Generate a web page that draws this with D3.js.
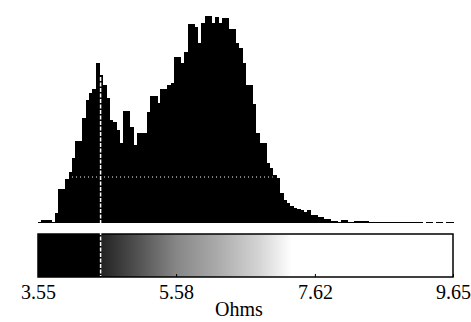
<!DOCTYPE html>
<html><head><meta charset="utf-8">
<script src="https://cdn.jsdelivr.net/npm/d3@7"></script>
<style>body{margin:0;background:#fff}svg{display:block}</style>
</head><body>
<svg id="c" width="471" height="322"></svg>
<script>
// Histogram counts, bins of 0.05 ohm starting at 3.55
const binStart = 3.55;
const binWidth = 0.05;
const counts = [
  1,3,3,3,1.5,10,34,34,44,51,
  65,82,82,105,123,130,134,160,148,138,
  125,103,101,93,80,112,112,96,78,90,
  90,90,111,127,127,120,134,134,138,140,
  166,166,160,171,199,199,196,180,200,207,
  207,200,206,200,205,205,194,194,180,175,
  160,138,138,119,90,80,80,60,55,48,
  45,30,23,20,17,15,14,13,11,13,
  8,8,6,6,4,4,2.5,2.5,1.5,3.5,
  3.5,1.5,1.5,2.5,2.5,2.5,2.5,0.8,0.8,0.8,
  1.5,1.5,1.5,1.5,1.5,1.2,1.2,1.2,1.2,1,
  1,0.8,0.8,0,1,1,0,1,1,0,1,1
];
const tickValues = [3.55, 5.58, 7.62, 9.65];
const markerValue = 4.47;          // white vertical dashed marker
const thresholdCount = 46;         // white horizontal dotted line
const thresholdRange = [4.05, 7.0];
const colorStops = [
  [3.55, "#000000"], [4.47, "#000000"], [4.47, "#222222"],
  [5.0, "#505050"], [5.58, "#868686"], [6.2, "#ababab"],
  [6.8, "#d4d4d4"], [7.28, "#ffffff"], [9.65, "#ffffff"]
];
const axisLabel = "Ohms";

const svg = d3.select("#c");
const x = d3.scaleLinear().domain([3.55, 9.65]).range([38, 453]);
const y = d3.scaleLinear().domain([0, 210]).range([223, 13]);

// bars
svg.append("g").selectAll("rect").data(counts).join("rect")
  .attr("x", (d,i) => x(binStart + i*binWidth))
  .attr("width", (d,i) => x(binStart + (i+1)*binWidth) - x(binStart + i*binWidth) + 0.6)
  .attr("y", d => y(d))
  .attr("height", d => y(0) - y(d))
  .attr("fill", "#000")
  .attr("shape-rendering", "crispEdges");

// threshold dotted line
svg.append("line")
  .attr("x1", x(thresholdRange[0])).attr("x2", x(thresholdRange[1]))
  .attr("y1", y(thresholdCount)).attr("y2", y(thresholdCount))
  .attr("stroke", "#fff").attr("stroke-width", 1)
  .attr("stroke-dasharray", "1,3");

// colour bar
const defs = svg.append("defs");
const grad = defs.append("linearGradient").attr("id", "g")
  .attr("gradientUnits", "userSpaceOnUse")
  .attr("x1", x(3.55)).attr("x2", x(9.65)).attr("y1", 0).attr("y2", 0);
grad.selectAll("stop").data(colorStops).join("stop")
  .attr("offset", d => (d[0] - 3.55) / (9.65 - 3.55))
  .attr("stop-color", d => d[1]);

const barTop = 234, barBot = 277;
svg.append("rect")
  .attr("x", x(3.55)).attr("y", barTop)
  .attr("width", x(9.65) - x(3.55)).attr("height", barBot - barTop)
  .attr("fill", "url(#g)").attr("stroke", "#000").attr("stroke-width", 1.5);

// marker line
svg.append("line")
  .attr("x1", x(markerValue)).attr("x2", x(markerValue))
  .attr("y1", y(counts[Math.floor((markerValue - binStart)/binWidth)]) + 2).attr("y2", barBot - 1)
  .attr("stroke", "#fff").attr("stroke-width", 1.5)
  .attr("stroke-dasharray", "4,1.5");

// axis
const axis = d3.axisBottom(x).tickValues(tickValues).tickSize(-3).tickPadding(8)
  .tickFormat(d3.format(".2f"));
const ag = svg.append("g").attr("transform", `translate(0,${barBot})`).call(axis);
ag.select(".domain").remove();
ag.selectAll("line").attr("stroke", "#000");
ag.selectAll("text").attr("font-family", "Liberation Serif, Times New Roman, serif")
  .attr("font-size", 20).attr("fill", "#000");

svg.append("text").attr("x", 239).attr("y", 316).attr("text-anchor", "middle")
  .attr("font-family", "Liberation Serif, Times New Roman, serif")
  .attr("font-size", 20).text(axisLabel);
</script>
</body></html>
